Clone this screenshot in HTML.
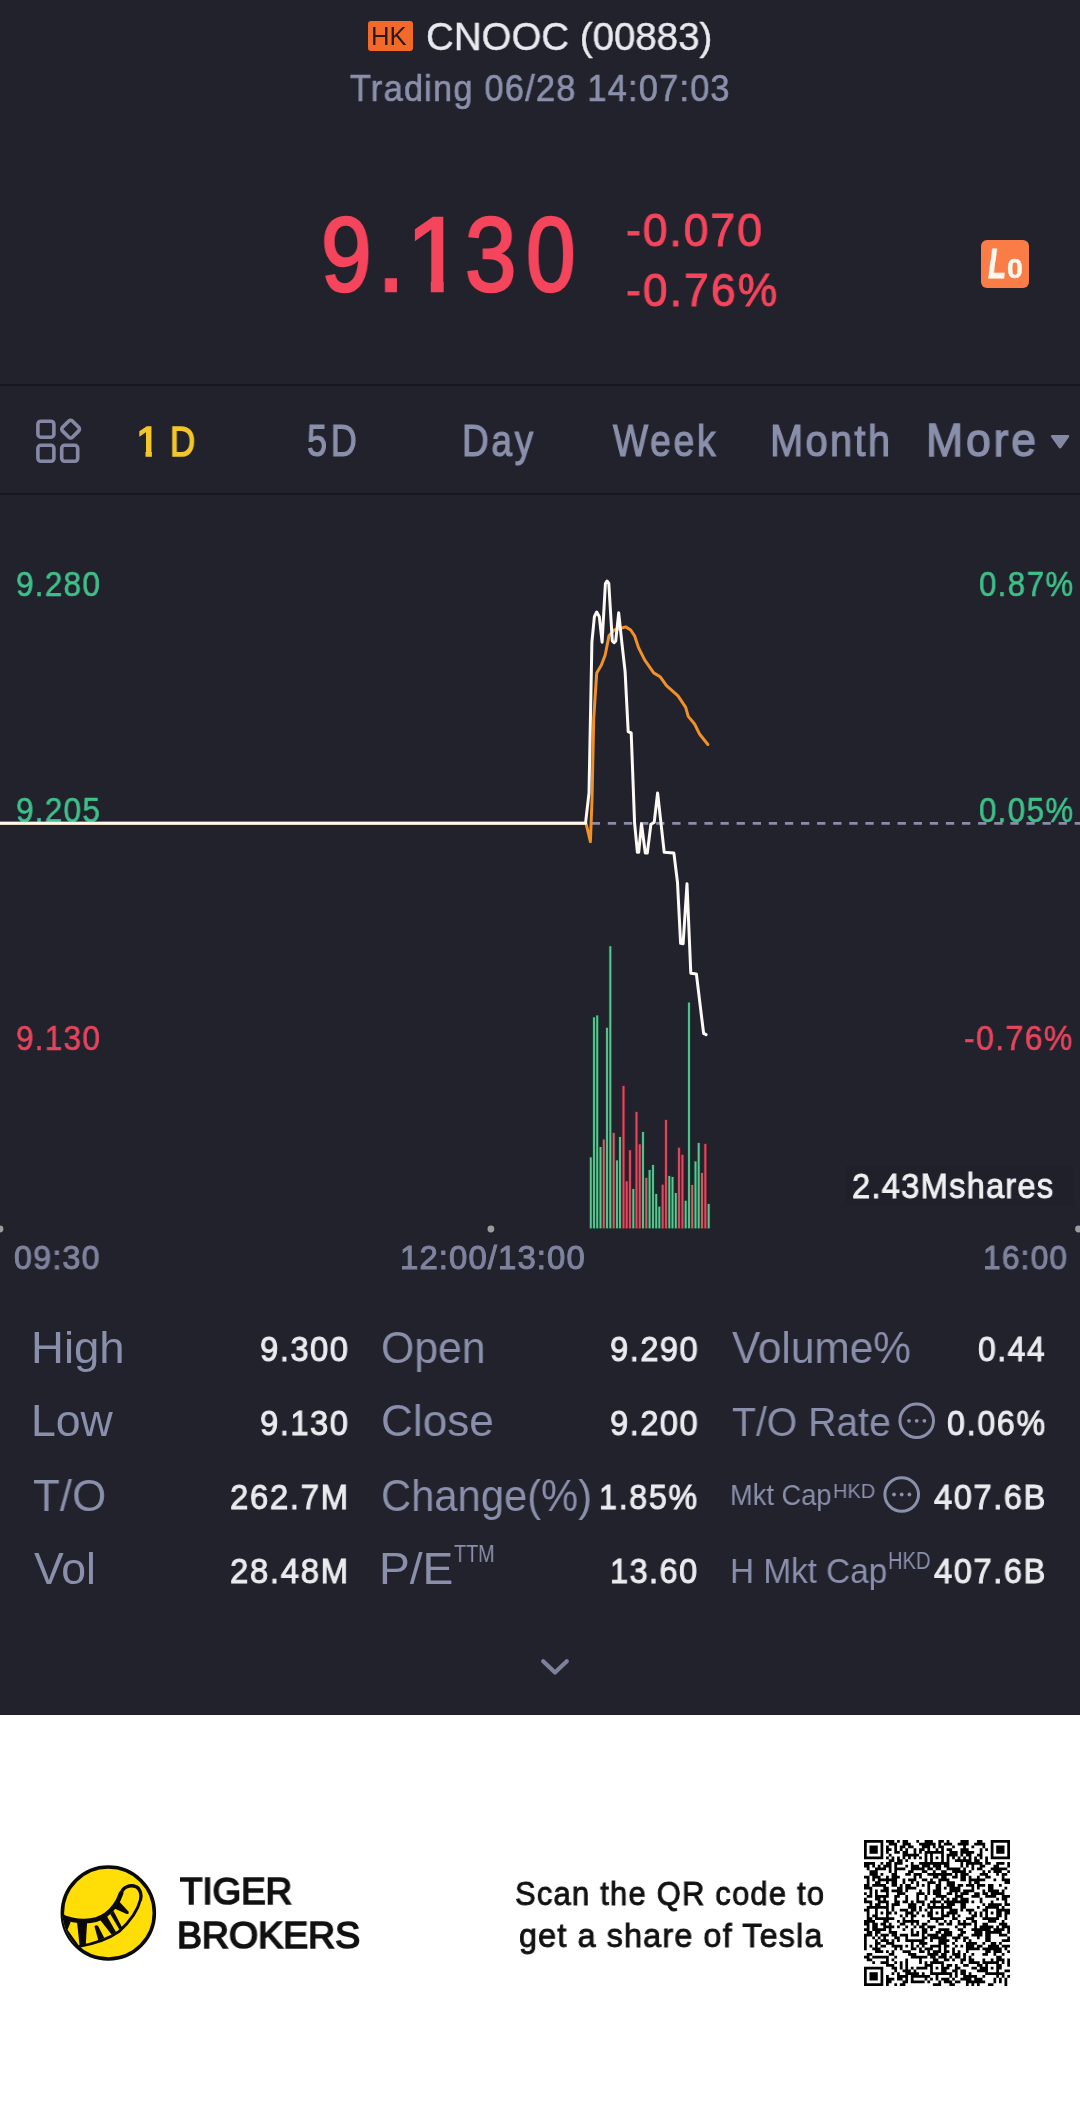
<!DOCTYPE html>
<html lang="en">
<head>
<meta charset="utf-8">
<title>CNOOC (00883)</title>
<style>
html,body{margin:0;padding:0;font-family:"Liberation Sans",sans-serif;}
body{width:1080px;height:2112px;position:relative;overflow:hidden;background:#ffffff;font-family:"Liberation Sans",sans-serif;}
#dark{position:absolute;left:0;top:0;width:1080px;height:1715px;background:#21222c;}
.t{will-change:transform;position:absolute;white-space:nowrap;transform-origin:0 0;display:block;}
.abs{position:absolute;}
.sep{position:absolute;left:0;width:1080px;height:2px;background:#17181f;}
svg{position:absolute;left:0;top:0;overflow:visible;}
</style>
</head>
<body>
<div id="dark"></div>

<!-- header badge -->
<div class="abs" style="left:368px;top:21px;width:45px;height:30px;border-radius:3px;background:#f26a2a;"></div>

<!-- Lo badge -->
<div class="abs" style="left:981px;top:240px;width:48px;height:48px;border-radius:6px;background:#fa7d48;"></div>

<!-- separators -->
<div class="sep" style="top:384px;"></div>
<div class="sep" style="top:493px;"></div>

<!-- volume tooltip background -->
<div class="abs" style="left:845px;top:1166px;width:228px;height:40px;background:#1f2029;"></div>

<span class="t" style="left:371.45px;top:23.84px;font-size:25.0px;line-height:25.0px;color:#2b1a12;transform:scaleX(1.0256);">HK</span>
<span class="t" style="left:426.06px;top:16.91px;font-size:39.68px;line-height:39.68px;color:#e9e9ee;transform:scaleX(0.9690);-webkit-text-stroke:0.4px #e9e9ee;">CNOOC (00883)</span>
<span class="t" style="left:350.35px;top:71.24px;font-size:36.63px;line-height:36.63px;color:#8b90ac;transform:scaleX(0.9354);letter-spacing:1.35px;-webkit-text-stroke:0.7px #8b90ac;">Trading 06/28 14:07:03</span>
<span class="t" style="left:320.86px;top:202.32px;font-size:105.89px;line-height:105.89px;color:#f5455c;transform:scaleX(0.8600);-webkit-text-stroke:2.6px #f5455c;">9</span>
<span class="t" style="left:376.79px;top:202.32px;font-size:105.89px;line-height:105.89px;color:#f5455c;transform:scaleX(0.9455);-webkit-text-stroke:2.6px #f5455c;">.</span>
<span class="t" style="left:406.30px;top:202.32px;font-size:105.89px;line-height:105.89px;color:#f5455c;transform:scaleX(1.0000);-webkit-text-stroke:2.6px #f5455c;clip-path:polygon(-9px -9px,106px -9px,106px 77.3px,37.7px 77.3px,37.7px 126px,24.8px 126px,24.8px 77.3px,-9px 77.3px);">1</span>
<span class="t" style="left:465.40px;top:202.32px;font-size:105.89px;line-height:105.89px;color:#f5455c;transform:scaleX(0.8745);-webkit-text-stroke:2.6px #f5455c;">3</span>
<span class="t" style="left:525.73px;top:202.32px;font-size:105.89px;line-height:105.89px;color:#f5455c;transform:scaleX(0.8431);-webkit-text-stroke:2.6px #f5455c;">0</span>
<span class="t" style="left:625.81px;top:206.71px;font-size:46.14px;line-height:46.14px;color:#f5455c;transform:scaleX(0.9685);letter-spacing:1.91px;-webkit-text-stroke:0.9px #f5455c;">-0.070</span>
<span class="t" style="left:625.80px;top:267.99px;font-size:45.58px;line-height:45.58px;color:#f5455c;transform:scaleX(0.9756);letter-spacing:2.12px;-webkit-text-stroke:0.9px #f5455c;">-0.76%</span>
<span class="t" style="left:988.00px;top:243.37px;font-size:41.86px;line-height:41.86px;color:#fff8f0;transform:scaleX(0.7125);font-weight:700;-webkit-text-stroke:0.8px #fff8f0;font-style:italic;">L</span>
<span class="t" style="left:1006.54px;top:254.29px;font-size:28.47px;line-height:28.47px;color:#fff8f0;transform:scaleX(1.0071);font-weight:700;-webkit-text-stroke:0.5px #fff8f0;">0</span>
<span class="t" style="left:136.22px;top:419.98px;font-size:43.02px;line-height:43.02px;color:#f3c62b;transform:scaleX(1.0000);-webkit-text-stroke:1.6px #f3c62b;clip-path:polygon(-9px -9px,43px -9px,43px 30.7px,15.9px 30.7px,15.9px 63px,9.5px 63px,9.5px 30.7px,-9px 30.7px);">1</span>
<span class="t" style="left:170.27px;top:419.98px;font-size:43.02px;line-height:43.02px;color:#f3c62b;transform:scaleX(0.8115);-webkit-text-stroke:1.6px #f3c62b;">D</span>
<span class="t" style="left:306.77px;top:419.69px;font-size:43.6px;line-height:43.6px;color:#8a8fab;transform:scaleX(0.8259);letter-spacing:4.63px;-webkit-text-stroke:1.2px #8a8fab;">5D</span>
<span class="t" style="left:462.06px;top:419.69px;font-size:43.6px;line-height:43.6px;color:#8a8fab;transform:scaleX(0.8470);letter-spacing:3.25px;-webkit-text-stroke:1.2px #8a8fab;">Day</span>
<span class="t" style="left:613.10px;top:419.69px;font-size:43.6px;line-height:43.6px;color:#8a8fab;transform:scaleX(0.8532);letter-spacing:3.21px;-webkit-text-stroke:1.2px #8a8fab;">Week</span>
<span class="t" style="left:770.35px;top:419.69px;font-size:43.6px;line-height:43.6px;color:#8a8fab;transform:scaleX(0.9151);letter-spacing:2.52px;-webkit-text-stroke:1.2px #8a8fab;">Month</span>
<span class="t" style="left:926.34px;top:417.28px;font-size:46.8px;line-height:46.8px;color:#8a8fab;transform:scaleX(0.9518);letter-spacing:2.94px;-webkit-text-stroke:1.4px #8a8fab;">More</span>
<span class="t" style="left:16.08px;top:567.30px;font-size:34.22px;line-height:34.22px;color:#3fc08a;transform:scaleX(0.9220);letter-spacing:1.33px;-webkit-text-stroke:0.6px #3fc08a;">9.280</span>
<span class="t" style="left:16.08px;top:793.30px;font-size:34.22px;line-height:34.22px;color:#3fc08a;transform:scaleX(0.9220);letter-spacing:1.33px;-webkit-text-stroke:0.6px #3fc08a;">9.205</span>
<span class="t" style="left:16.08px;top:1020.80px;font-size:34.22px;line-height:34.22px;color:#e6455d;transform:scaleX(0.9220);letter-spacing:1.33px;-webkit-text-stroke:0.6px #e6455d;">9.130</span>
<span class="t" style="left:978.69px;top:567.30px;font-size:34.22px;line-height:34.22px;color:#3fc08a;transform:scaleX(0.9125);letter-spacing:1.53px;-webkit-text-stroke:0.6px #3fc08a;">0.87%</span>
<span class="t" style="left:978.69px;top:793.30px;font-size:34.22px;line-height:34.22px;color:#3fc08a;transform:scaleX(0.9125);letter-spacing:1.53px;-webkit-text-stroke:0.6px #3fc08a;">0.05%</span>
<span class="t" style="left:964.36px;top:1020.80px;font-size:34.22px;line-height:34.22px;color:#e6455d;transform:scaleX(0.9409);letter-spacing:1.37px;-webkit-text-stroke:0.6px #e6455d;">-0.76%</span>
<span class="t" style="left:851.50px;top:1168.91px;font-size:34.5px;line-height:34.5px;color:#f0f0f3;transform:scaleX(0.9491);letter-spacing:1.26px;-webkit-text-stroke:0.9px #f0f0f3;">2.43Mshares</span>
<span class="t" style="left:13.92px;top:1242.22px;font-size:32.68px;line-height:32.68px;color:#7f839d;transform:scaleX(0.9838);letter-spacing:1.27px;-webkit-text-stroke:1.0px #7f839d;">09:30</span>
<span class="t" style="left:400.28px;top:1242.22px;font-size:32.68px;line-height:32.68px;color:#7f839d;transform:scaleX(1.0075);letter-spacing:1.08px;-webkit-text-stroke:1.0px #7f839d;">12:00/13:00</span>
<span class="t" style="left:982.56px;top:1242.22px;font-size:32.68px;line-height:32.68px;color:#7f839d;transform:scaleX(0.9688);letter-spacing:1.25px;-webkit-text-stroke:1.0px #7f839d;">16:00</span>
<span class="t" style="left:30.94px;top:1325.63px;font-size:44.62px;line-height:44.62px;color:#8a8fab;transform:scaleX(1.0205);">High</span>
<span class="t" style="left:31.01px;top:1399.23px;font-size:44.62px;line-height:44.62px;color:#8a8fab;transform:scaleX(0.9960);">Low</span>
<span class="t" style="left:33.02px;top:1473.63px;font-size:44.62px;line-height:44.62px;color:#8a8fab;transform:scaleX(0.9840);">T/O</span>
<span class="t" style="left:34.00px;top:1547.23px;font-size:44.62px;line-height:44.62px;color:#8a8fab;transform:scaleX(0.9983);">Vol</span>
<span class="t" style="left:380.58px;top:1325.63px;font-size:44.62px;line-height:44.62px;color:#8a8fab;transform:scaleX(0.9586);">Open</span>
<span class="t" style="left:380.52px;top:1399.23px;font-size:44.62px;line-height:44.62px;color:#8a8fab;transform:scaleX(0.9887);">Close</span>
<span class="t" style="left:380.63px;top:1473.63px;font-size:44.62px;line-height:44.62px;color:#8a8fab;transform:scaleX(0.9356);">Change(%)</span>
<span class="t" style="left:379.39px;top:1547.23px;font-size:44.62px;line-height:44.62px;color:#8a8fab;transform:scaleX(1.0350);">P/E</span>
<span class="t" style="left:453.50px;top:1542.20px;font-size:23.98px;line-height:23.98px;color:#8a8fab;transform:scaleX(0.8248);">TTM</span>
<span class="t" style="left:731.70px;top:1325.63px;font-size:44.62px;line-height:44.62px;color:#8a8fab;transform:scaleX(0.9495);">Volume%</span>
<span class="t" style="left:731.70px;top:1402.97px;font-size:39.97px;line-height:39.97px;color:#8a8fab;transform:scaleX(0.9794);">T/O Rate</span>
<span class="t" style="left:729.84px;top:1480.35px;font-size:29.36px;line-height:29.36px;color:#8a8fab;transform:scaleX(0.9282);">Mkt Cap</span>
<span class="t" style="left:833.03px;top:1481.03px;font-size:20.64px;line-height:20.64px;color:#8a8fab;transform:scaleX(0.9676);">HKD</span>
<span class="t" style="left:729.81px;top:1552.93px;font-size:35.17px;line-height:35.17px;color:#8a8fab;transform:scaleX(0.9468);">H Mkt Cap</span>
<span class="t" style="left:888.13px;top:1550.31px;font-size:23.26px;line-height:23.26px;color:#8a8fab;transform:scaleX(0.8668);">HKD</span>
<span class="t" style="left:260.26px;top:1332.12px;font-size:34.78px;line-height:34.78px;color:#ebebef;transform:scaleX(0.9425);letter-spacing:1.59px;-webkit-text-stroke:1.0px #ebebef;">9.300</span>
<span class="t" style="left:260.26px;top:1405.82px;font-size:34.78px;line-height:34.78px;color:#ebebef;transform:scaleX(0.9425);letter-spacing:1.59px;-webkit-text-stroke:1.0px #ebebef;">9.130</span>
<span class="t" style="left:230.25px;top:1479.82px;font-size:34.78px;line-height:34.78px;color:#ebebef;transform:scaleX(0.9489);letter-spacing:1.70px;-webkit-text-stroke:1.0px #ebebef;">262.7M</span>
<span class="t" style="left:230.25px;top:1553.82px;font-size:34.78px;line-height:34.78px;color:#ebebef;transform:scaleX(0.9489);letter-spacing:1.70px;-webkit-text-stroke:1.0px #ebebef;">28.48M</span>
<span class="t" style="left:609.56px;top:1332.12px;font-size:34.78px;line-height:34.78px;color:#ebebef;transform:scaleX(0.9392);letter-spacing:1.59px;-webkit-text-stroke:1.0px #ebebef;">9.290</span>
<span class="t" style="left:609.56px;top:1405.82px;font-size:34.78px;line-height:34.78px;color:#ebebef;transform:scaleX(0.9392);letter-spacing:1.59px;-webkit-text-stroke:1.0px #ebebef;">9.200</span>
<span class="t" style="left:598.64px;top:1479.82px;font-size:34.78px;line-height:34.78px;color:#ebebef;transform:scaleX(0.9284);letter-spacing:1.80px;-webkit-text-stroke:1.0px #ebebef;">1.85%</span>
<span class="t" style="left:610.13px;top:1553.82px;font-size:34.78px;line-height:34.78px;color:#ebebef;transform:scaleX(0.9337);letter-spacing:1.57px;-webkit-text-stroke:1.0px #ebebef;">13.60</span>
<span class="t" style="left:978.08px;top:1332.12px;font-size:34.78px;line-height:34.78px;color:#ebebef;transform:scaleX(0.9184);letter-spacing:1.66px;-webkit-text-stroke:1.0px #ebebef;">0.44</span>
<span class="t" style="left:947.27px;top:1405.82px;font-size:34.78px;line-height:34.78px;color:#ebebef;transform:scaleX(0.9265);letter-spacing:1.82px;-webkit-text-stroke:1.0px #ebebef;">0.06%</span>
<span class="t" style="left:933.80px;top:1479.82px;font-size:34.78px;line-height:34.78px;color:#ebebef;transform:scaleX(0.9402);letter-spacing:1.64px;-webkit-text-stroke:1.0px #ebebef;">407.6B</span>
<span class="t" style="left:933.80px;top:1553.82px;font-size:34.78px;line-height:34.78px;color:#ebebef;transform:scaleX(0.9402);letter-spacing:1.64px;-webkit-text-stroke:1.0px #ebebef;">407.6B</span>
<span class="t" style="left:180.15px;top:1872.65px;font-size:37.21px;line-height:37.21px;color:#111;transform:scaleX(0.9866);-webkit-text-stroke:1.7px #111;">TIGER</span>
<span class="t" style="left:177.17px;top:1916.58px;font-size:37.65px;line-height:37.65px;color:#111;transform:scaleX(0.9947);-webkit-text-stroke:1.7px #111;">BROKERS</span>
<span class="t" style="left:514.54px;top:1875.76px;font-size:34.01px;line-height:34.01px;color:#111;transform:scaleX(0.9113);letter-spacing:1.31px;-webkit-text-stroke:0.9px #111;">Scan the QR code to</span>
<span class="t" style="left:518.80px;top:1918.06px;font-size:34.01px;line-height:34.01px;color:#111;transform:scaleX(0.9529);letter-spacing:1.17px;-webkit-text-stroke:0.9px #111;">get a share of Tesla</span>

<svg width="1080" height="2112" viewBox="0 0 1080 2112">
<line x1="591.7" y1="823.4" x2="1080" y2="823.4" stroke="#8a8da6" stroke-width="2.8" stroke-dasharray="8.3 7.8"/>
<rect x="589.1" y="1156.9" width="3.4" height="71.9" fill="#0b4a30"/>
<rect x="592.3" y="1016.9" width="3.4" height="211.9" fill="#0b4a30"/>
<rect x="595.5" y="1015.0" width="3.4" height="213.8" fill="#0b4a30"/>
<rect x="598.8" y="1146.5" width="3.4" height="82.3" fill="#0b4a30"/>
<rect x="602.1" y="1139.1" width="3.4" height="89.7" fill="#4b2a26"/>
<rect x="605.3" y="1027.3" width="3.4" height="201.5" fill="#0b4a30"/>
<rect x="608.6" y="945.8" width="3.4" height="283.0" fill="#0b4a30"/>
<rect x="612.0" y="1132.5" width="3.4" height="96.3" fill="#4b2a26"/>
<rect x="615.3" y="1159.9" width="3.4" height="68.9" fill="#0b4a30"/>
<rect x="618.3" y="1136.5" width="3.4" height="92.3" fill="#0b4a30"/>
<rect x="621.8" y="1085.5" width="3.4" height="143.3" fill="#6a1c28"/>
<rect x="625.0" y="1180.9" width="3.4" height="47.9" fill="#6a1c28"/>
<rect x="628.3" y="1149.8" width="3.4" height="79.0" fill="#6a1c28"/>
<rect x="631.6" y="1188.5" width="3.4" height="40.3" fill="#0b4a30"/>
<rect x="634.8" y="1111.5" width="3.4" height="117.3" fill="#6a1c28"/>
<rect x="638.1" y="1143.9" width="3.4" height="84.9" fill="#6a1c28"/>
<rect x="641.3" y="1131.5" width="3.4" height="97.3" fill="#0b4a30"/>
<rect x="644.6" y="1177.4" width="3.4" height="51.4" fill="#4b2a26"/>
<rect x="647.9" y="1169.5" width="3.4" height="59.3" fill="#0b4a30"/>
<rect x="651.3" y="1164.5" width="3.4" height="64.3" fill="#0b4a30"/>
<rect x="654.5" y="1193.5" width="3.4" height="35.3" fill="#0b4a30"/>
<rect x="657.6" y="1206.2" width="3.4" height="22.6" fill="#0b4a30"/>
<rect x="661.0" y="1184.3" width="3.4" height="44.5" fill="#6a1c28"/>
<rect x="664.3" y="1119.5" width="3.4" height="109.3" fill="#6a1c28"/>
<rect x="667.6" y="1175.5" width="3.4" height="53.3" fill="#0b4a30"/>
<rect x="670.8" y="1176.5" width="3.4" height="52.3" fill="#0b4a30"/>
<rect x="674.1" y="1192.5" width="3.4" height="36.3" fill="#0b4a30"/>
<rect x="677.3" y="1147.3" width="3.4" height="81.5" fill="#6a1c28"/>
<rect x="680.7" y="1154.4" width="3.4" height="74.4" fill="#6a1c28"/>
<rect x="684.0" y="1200.3" width="3.4" height="28.5" fill="#0b4a30"/>
<rect x="687.3" y="1002.1" width="3.4" height="226.7" fill="#0b4a30"/>
<rect x="690.5" y="1184.5" width="3.4" height="44.3" fill="#4b2a26"/>
<rect x="693.8" y="1160.9" width="3.4" height="67.9" fill="#0b4a30"/>
<rect x="697.0" y="1142.5" width="3.4" height="86.3" fill="#0b4a30"/>
<rect x="700.3" y="1172.5" width="3.4" height="56.3" fill="#4b2a26"/>
<rect x="703.6" y="1143.5" width="3.4" height="85.3" fill="#6a1c28"/>
<rect x="707.0" y="1203.5" width="3.4" height="25.3" fill="#0b4a30"/>
<rect x="589.85" y="1157.4" width="1.9" height="70.9" fill="#62c394"/>
<rect x="593.05" y="1017.4" width="1.9" height="210.9" fill="#62c394"/>
<rect x="596.25" y="1015.5" width="1.9" height="212.8" fill="#62c394"/>
<rect x="599.55" y="1147.0" width="1.9" height="81.3" fill="#62c394"/>
<rect x="602.85" y="1139.6" width="1.9" height="88.7" fill="#c0666c"/>
<rect x="606.05" y="1027.8" width="1.9" height="200.5" fill="#62c394"/>
<rect x="609.35" y="946.3" width="1.9" height="282.0" fill="#62c394"/>
<rect x="612.75" y="1133.0" width="1.9" height="95.3" fill="#c0666c"/>
<rect x="616.05" y="1160.4" width="1.9" height="67.9" fill="#62c394"/>
<rect x="619.05" y="1137.0" width="1.9" height="91.3" fill="#62c394"/>
<rect x="622.55" y="1086.0" width="1.9" height="142.3" fill="#dc4a63"/>
<rect x="625.75" y="1181.4" width="1.9" height="46.9" fill="#dc4a63"/>
<rect x="629.05" y="1150.3" width="1.9" height="78.0" fill="#dc4a63"/>
<rect x="632.35" y="1189.0" width="1.9" height="39.3" fill="#62c394"/>
<rect x="635.55" y="1112.0" width="1.9" height="116.3" fill="#dc4a63"/>
<rect x="638.85" y="1144.4" width="1.9" height="83.9" fill="#dc4a63"/>
<rect x="642.05" y="1132.0" width="1.9" height="96.3" fill="#62c394"/>
<rect x="645.35" y="1177.9" width="1.9" height="50.4" fill="#c0666c"/>
<rect x="648.65" y="1170.0" width="1.9" height="58.3" fill="#62c394"/>
<rect x="652.05" y="1165.0" width="1.9" height="63.3" fill="#62c394"/>
<rect x="655.25" y="1194.0" width="1.9" height="34.3" fill="#62c394"/>
<rect x="658.35" y="1206.7" width="1.9" height="21.6" fill="#62c394"/>
<rect x="661.75" y="1184.8" width="1.9" height="43.5" fill="#dc4a63"/>
<rect x="665.05" y="1120.0" width="1.9" height="108.3" fill="#dc4a63"/>
<rect x="668.35" y="1176.0" width="1.9" height="52.3" fill="#62c394"/>
<rect x="671.55" y="1177.0" width="1.9" height="51.3" fill="#62c394"/>
<rect x="674.85" y="1193.0" width="1.9" height="35.3" fill="#62c394"/>
<rect x="678.05" y="1147.8" width="1.9" height="80.5" fill="#dc4a63"/>
<rect x="681.45" y="1154.9" width="1.9" height="73.4" fill="#dc4a63"/>
<rect x="684.75" y="1200.8" width="1.9" height="27.5" fill="#62c394"/>
<rect x="688.05" y="1002.6" width="1.9" height="225.7" fill="#62c394"/>
<rect x="691.25" y="1185.0" width="1.9" height="43.3" fill="#c0666c"/>
<rect x="694.55" y="1161.4" width="1.9" height="66.9" fill="#62c394"/>
<rect x="697.75" y="1143.0" width="1.9" height="85.3" fill="#62c394"/>
<rect x="701.05" y="1173.0" width="1.9" height="55.3" fill="#c0666c"/>
<rect x="704.35" y="1144.0" width="1.9" height="84.3" fill="#dc4a63"/>
<rect x="707.75" y="1204.0" width="1.9" height="24.3" fill="#62c394"/>
<polyline points="0.0,823.3 586.0,823.3 590.4,841.6 592.0,800.0 593.7,718.9 596.7,672.9 601.3,665.2 605.2,655.0 609.0,635.8 614.1,630.0 619.2,628.7 625.6,626.9 630.7,630.0 634.6,635.8 638.4,647.3 644.8,660.1 653.7,672.9 660.1,676.7 666.5,685.7 678.0,695.9 685.7,707.4 688.2,716.4 694.6,724.0 699.7,734.3 707.9,744.5" fill="none" stroke="#f0912a" stroke-width="3.0" stroke-linejoin="round" stroke-linecap="round"/>
<polyline points="0.0,823.3 585.5,823.3 589.0,793.0 591.9,642.2 594.4,616.7 596.7,612.0 599.3,616.7 602.1,642.2 605.4,583.5 607.0,581.0 608.8,583.5 612.3,641.0 614.1,642.7 615.7,641.0 618.7,612.8 621.8,642.2 625.1,671.6 628.2,731.7 631.2,733.0 634.6,823.2 637.4,852.3 638.7,852.3 641.5,823.7 645.3,853.1 647.3,853.1 650.9,824.2 654.2,822.4 657.6,793.0 660.9,822.4 664.2,852.3 673.9,853.1 677.5,882.5 680.6,943.3 683.1,943.8 687.0,883.8 690.8,973.2 696.4,974.0 700.0,1003.9 703.6,1033.3 706.1,1034.6" fill="none" stroke="#fdfaf5" stroke-width="3.0" stroke-linejoin="round" stroke-linecap="round"/>
<circle cx="0" cy="1229" r="3.4" fill="#9b9b9b"/>
<circle cx="490.9" cy="1229" r="3.4" fill="#9b9b9b"/>
<circle cx="1078.5" cy="1229" r="3.4" fill="#9b9b9b"/>
<rect x="37.9" y="421.2" width="16" height="16" rx="3" fill="none" stroke="#8588a2" stroke-width="3.6"/>
<rect x="37.9" y="445.3" width="16" height="16" rx="3" fill="none" stroke="#8588a2" stroke-width="3.6"/>
<rect x="61.7" y="445.3" width="16" height="16" rx="3" fill="none" stroke="#8588a2" stroke-width="3.6"/>
<rect x="63.6" y="422.1" width="14" height="14" rx="2.5" fill="none" stroke="#8588a2" stroke-width="3.6" transform="rotate(45 70.6 429.1)"/>
<path d="M1052.6 434.9 L1067.6 434.9 Q1070.4 434.9 1068.8 437.2 L1061.6 447.6 Q1060.1 449.5 1058.6 447.6 L1051.4 437.2 Q1049.8 434.9 1052.6 434.9 Z" fill="#8588a2"/>
<circle cx="916.7" cy="1420.8" r="16.8" fill="none" stroke="#8a8fab" stroke-width="3"/>
<circle cx="909.0" cy="1420.8" r="1.9" fill="#8a8fab"/>
<circle cx="916.7" cy="1420.8" r="1.9" fill="#8a8fab"/>
<circle cx="924.4" cy="1420.8" r="1.9" fill="#8a8fab"/>
<circle cx="901.7" cy="1494.5" r="16.8" fill="none" stroke="#8a8fab" stroke-width="3"/>
<circle cx="894.0" cy="1494.5" r="1.9" fill="#8a8fab"/>
<circle cx="901.7" cy="1494.5" r="1.9" fill="#8a8fab"/>
<circle cx="909.4" cy="1494.5" r="1.9" fill="#8a8fab"/>
<polyline points="543.2,1661.3 555,1672.6 566.8,1661.3" fill="none" stroke="#7d819b" stroke-width="4.2" stroke-linecap="round" stroke-linejoin="round"/>
</svg>

<svg style="left:50px;top:1855px" width="120" height="120" viewBox="0 0 1080 1080">
<defs><clipPath id="lc"><circle cx="525" cy="522" r="412"/></clipPath></defs>
<circle cx="525" cy="522" r="414" fill="#ffde07" stroke="#0a0a0a" stroke-width="32"/>
<g clip-path="url(#lc)" stroke-linecap="round" stroke-linejoin="round">
<path d="M95 545 C230 612 400 612 500 540 C570 490 615 420 640 345 C655 290 720 262 775 285 C815 305 825 360 815 400 C790 500 720 600 620 690 C520 760 400 800 262 822 L60 700 Z" fill="#ffde07"/>
<path d="M60 500 L186 604 L158 672 L256 810 L237 880 L20 760 Z" fill="#0a0a0a"/>
<path d="M243 600 L334 606 L322 806 L266 812 Z" fill="#0a0a0a"/>
<path d="M400 642 Q412 626 432 636 L489 748 L435 770 Z" fill="#0a0a0a"/>
<path d="M448 580 L510 546 L594 694 L554 716 Z" fill="#0a0a0a"/>
<path d="M542 530 L572 504 L648 650 L624 670 Z" fill="#0a0a0a"/>
<path d="M625 420 L706 508 Q716 532 690 532 L570 476 Z" fill="#0a0a0a"/>
<path d="M815 400 C790 500 720 600 620 690 C520 760 400 800 262 822" fill="none" stroke="#0a0a0a" stroke-width="26"/>
<path d="M95 548 C230 612 400 612 500 540 C570 490 615 420 640 345" fill="none" stroke="#0a0a0a" stroke-width="42"/>
<path d="M640 345 C655 290 720 262 775 285 C815 305 825 360 815 400" fill="none" stroke="#0a0a0a" stroke-width="30"/>
</g>
</svg>
<svg style="left:864.0px;top:1840.0px" width="146.0" height="146.0" viewBox="0 0 53 53"><rect width="53" height="53" fill="#fff"/><path d="M0 0h7v1h-7zM8 0h3v1h-3zM12 0h1v1h-1zM14 0h2v1h-2zM19 0h1v1h-1zM22 0h3v1h-3zM27 0h2v1h-2zM30 0h1v1h-1zM35 0h3v1h-3zM41 0h2v1h-2zM46 0h7v1h-7zM0 1h1v1h-1zM6 1h1v1h-1zM9 1h3v1h-3zM14 1h3v1h-3zM20 1h6v1h-6zM27 1h1v1h-1zM29 1h3v1h-3zM34 1h4v1h-4zM40 1h4v1h-4zM46 1h1v1h-1zM52 1h1v1h-1zM0 2h1v1h-1zM2 2h3v1h-3zM6 2h1v1h-1zM8 2h1v1h-1zM11 2h1v1h-1zM13 2h2v1h-2zM16 2h2v1h-2zM21 2h3v1h-3zM25 2h1v1h-1zM27 2h2v1h-2zM32 2h1v1h-1zM36 2h1v1h-1zM39 2h1v1h-1zM43 2h1v1h-1zM46 2h1v1h-1zM48 2h3v1h-3zM52 2h1v1h-1zM0 3h1v1h-1zM2 3h3v1h-3zM6 3h1v1h-1zM8 3h2v1h-2zM11 3h1v1h-1zM13 3h1v1h-1zM15 3h1v1h-1zM18 3h1v1h-1zM20 3h2v1h-2zM23 3h1v1h-1zM26 3h1v1h-1zM28 3h1v1h-1zM30 3h2v1h-2zM35 3h3v1h-3zM42 3h1v1h-1zM44 3h1v1h-1zM46 3h1v1h-1zM48 3h3v1h-3zM52 3h1v1h-1zM0 4h1v1h-1zM2 4h3v1h-3zM6 4h1v1h-1zM8 4h1v1h-1zM11 4h2v1h-2zM14 4h2v1h-2zM18 4h1v1h-1zM20 4h1v1h-1zM22 4h7v1h-7zM31 4h3v1h-3zM35 4h5v1h-5zM42 4h1v1h-1zM46 4h1v1h-1zM48 4h3v1h-3zM52 4h1v1h-1zM0 5h1v1h-1zM6 5h1v1h-1zM9 5h1v1h-1zM14 5h6v1h-6zM22 5h1v1h-1zM24 5h1v1h-1zM28 5h1v1h-1zM30 5h4v1h-4zM35 5h1v1h-1zM37 5h2v1h-2zM41 5h2v1h-2zM46 5h1v1h-1zM52 5h1v1h-1zM0 6h7v1h-7zM8 6h1v1h-1zM10 6h1v1h-1zM12 6h1v1h-1zM14 6h1v1h-1zM16 6h1v1h-1zM18 6h1v1h-1zM20 6h1v1h-1zM22 6h1v1h-1zM24 6h1v1h-1zM26 6h1v1h-1zM28 6h1v1h-1zM30 6h1v1h-1zM32 6h1v1h-1zM34 6h1v1h-1zM36 6h1v1h-1zM38 6h1v1h-1zM40 6h1v1h-1zM42 6h1v1h-1zM44 6h1v1h-1zM46 6h7v1h-7zM9 7h2v1h-2zM12 7h2v1h-2zM15 7h1v1h-1zM22 7h1v1h-1zM24 7h1v1h-1zM28 7h1v1h-1zM30 7h1v1h-1zM33 7h6v1h-6zM40 7h2v1h-2zM44 7h1v1h-1zM0 8h4v1h-4zM6 8h1v1h-1zM8 8h2v1h-2zM11 8h3v1h-3zM17 8h1v1h-1zM20 8h11v1h-11zM35 8h1v1h-1zM37 8h6v1h-6zM44 8h2v1h-2zM48 8h3v1h-3zM52 8h1v1h-1zM0 9h2v1h-2zM3 9h1v1h-1zM5 9h1v1h-1zM7 9h3v1h-3zM11 9h1v1h-1zM15 9h1v1h-1zM17 9h3v1h-3zM21 9h3v1h-3zM25 9h3v1h-3zM29 9h2v1h-2zM35 9h1v1h-1zM37 9h1v1h-1zM39 9h1v1h-1zM42 9h2v1h-2zM47 9h2v1h-2zM52 9h1v1h-1zM1 10h1v1h-1zM4 10h4v1h-4zM9 10h1v1h-1zM11 10h4v1h-4zM17 10h5v1h-5zM23 10h2v1h-2zM26 10h2v1h-2zM30 10h5v1h-5zM36 10h1v1h-1zM39 10h1v1h-1zM41 10h2v1h-2zM46 10h6v1h-6zM2 11h3v1h-3zM9 11h1v1h-1zM11 11h1v1h-1zM16 11h2v1h-2zM21 11h2v1h-2zM25 11h1v1h-1zM28 11h2v1h-2zM32 11h5v1h-5zM38 11h1v1h-1zM43 11h1v1h-1zM45 11h1v1h-1zM47 11h3v1h-3zM52 11h1v1h-1zM2 12h3v1h-3zM6 12h1v1h-1zM10 12h2v1h-2zM15 12h2v1h-2zM18 12h3v1h-3zM23 12h9v1h-9zM33 12h1v1h-1zM35 12h3v1h-3zM42 12h3v1h-3zM48 12h1v1h-1zM50 12h2v1h-2zM0 13h2v1h-2zM3 13h3v1h-3zM8 13h1v1h-1zM10 13h3v1h-3zM18 13h1v1h-1zM20 13h1v1h-1zM25 13h2v1h-2zM28 13h2v1h-2zM32 13h2v1h-2zM35 13h2v1h-2zM38 13h1v1h-1zM41 13h1v1h-1zM44 13h2v1h-2zM50 13h1v1h-1zM1 14h1v1h-1zM3 14h1v1h-1zM5 14h7v1h-7zM14 14h1v1h-1zM16 14h3v1h-3zM21 14h2v1h-2zM24 14h1v1h-1zM27 14h4v1h-4zM35 14h2v1h-2zM38 14h6v1h-6zM47 14h1v1h-1zM50 14h3v1h-3zM1 15h1v1h-1zM4 15h2v1h-2zM8 15h1v1h-1zM10 15h2v1h-2zM14 15h1v1h-1zM17 15h1v1h-1zM19 15h1v1h-1zM23 15h3v1h-3zM27 15h1v1h-1zM30 15h3v1h-3zM38 15h1v1h-1zM40 15h2v1h-2zM51 15h2v1h-2zM0 16h2v1h-2zM3 16h5v1h-5zM10 16h2v1h-2zM13 16h1v1h-1zM15 16h2v1h-2zM19 16h1v1h-1zM21 16h1v1h-1zM23 16h1v1h-1zM26 16h2v1h-2zM30 16h3v1h-3zM34 16h2v1h-2zM37 16h3v1h-3zM41 16h3v1h-3zM45 16h2v1h-2zM49 16h1v1h-1zM0 17h3v1h-3zM7 17h2v1h-2zM12 17h2v1h-2zM15 17h4v1h-4zM23 17h1v1h-1zM26 17h2v1h-2zM29 17h1v1h-1zM31 17h4v1h-4zM39 17h1v1h-1zM41 17h1v1h-1zM45 17h2v1h-2zM51 17h1v1h-1zM2 18h1v1h-1zM4 18h1v1h-1zM6 18h3v1h-3zM10 18h4v1h-4zM15 18h1v1h-1zM20 18h1v1h-1zM23 18h1v1h-1zM25 18h3v1h-3zM31 18h4v1h-4zM36 18h4v1h-4zM43 18h1v1h-1zM45 18h4v1h-4zM50 18h1v1h-1zM0 19h1v1h-1zM2 19h1v1h-1zM4 19h1v1h-1zM8 19h1v1h-1zM12 19h3v1h-3zM19 19h3v1h-3zM23 19h1v1h-1zM25 19h3v1h-3zM30 19h2v1h-2zM33 19h1v1h-1zM35 19h3v1h-3zM40 19h2v1h-2zM43 19h2v1h-2zM46 19h5v1h-5zM1 20h2v1h-2zM4 20h5v1h-5zM11 20h2v1h-2zM15 20h1v1h-1zM19 20h1v1h-1zM22 20h1v1h-1zM26 20h4v1h-4zM33 20h3v1h-3zM39 20h3v1h-3zM44 20h4v1h-4zM50 20h3v1h-3zM0 21h1v1h-1zM4 21h2v1h-2zM7 21h1v1h-1zM11 21h1v1h-1zM15 21h1v1h-1zM19 21h1v1h-1zM22 21h1v1h-1zM25 21h1v1h-1zM28 21h1v1h-1zM30 21h1v1h-1zM32 21h2v1h-2zM35 21h3v1h-3zM42 21h1v1h-1zM48 21h1v1h-1zM50 21h2v1h-2zM0 22h3v1h-3zM5 22h4v1h-4zM11 22h2v1h-2zM14 22h2v1h-2zM17 22h1v1h-1zM19 22h3v1h-3zM24 22h4v1h-4zM29 22h9v1h-9zM39 22h1v1h-1zM42 22h1v1h-1zM46 22h1v1h-1zM51 22h1v1h-1zM2 23h1v1h-1zM4 23h2v1h-2zM8 23h1v1h-1zM10 23h3v1h-3zM16 23h3v1h-3zM21 23h1v1h-1zM23 23h1v1h-1zM25 23h1v1h-1zM28 23h1v1h-1zM30 23h3v1h-3zM35 23h2v1h-2zM43 23h1v1h-1zM45 23h5v1h-5zM51 23h2v1h-2zM1 24h8v1h-8zM10 24h1v1h-1zM16 24h3v1h-3zM20 24h1v1h-1zM23 24h9v1h-9zM35 24h2v1h-2zM41 24h1v1h-1zM44 24h5v1h-5zM50 24h1v1h-1zM0 25h2v1h-2zM4 25h1v1h-1zM8 25h1v1h-1zM10 25h1v1h-1zM13 25h3v1h-3zM17 25h2v1h-2zM20 25h1v1h-1zM22 25h1v1h-1zM24 25h1v1h-1zM28 25h1v1h-1zM31 25h3v1h-3zM35 25h1v1h-1zM37 25h3v1h-3zM43 25h2v1h-2zM48 25h5v1h-5zM1 26h1v1h-1zM4 26h1v1h-1zM6 26h1v1h-1zM8 26h2v1h-2zM11 26h1v1h-1zM15 26h3v1h-3zM19 26h1v1h-1zM23 26h2v1h-2zM26 26h1v1h-1zM28 26h1v1h-1zM30 26h4v1h-4zM38 26h1v1h-1zM40 26h1v1h-1zM42 26h1v1h-1zM44 26h1v1h-1zM46 26h1v1h-1zM48 26h2v1h-2zM51 26h2v1h-2zM1 27h1v1h-1zM3 27h2v1h-2zM8 27h1v1h-1zM13 27h1v1h-1zM15 27h1v1h-1zM17 27h2v1h-2zM21 27h1v1h-1zM23 27h2v1h-2zM28 27h3v1h-3zM32 27h1v1h-1zM34 27h1v1h-1zM39 27h2v1h-2zM42 27h1v1h-1zM44 27h1v1h-1zM48 27h2v1h-2zM51 27h1v1h-1zM1 28h2v1h-2zM4 28h7v1h-7zM14 28h1v1h-1zM17 28h1v1h-1zM24 28h5v1h-5zM32 28h2v1h-2zM37 28h3v1h-3zM43 28h6v1h-6zM51 28h1v1h-1zM0 29h4v1h-4zM7 29h2v1h-2zM12 29h1v1h-1zM14 29h6v1h-6zM23 29h1v1h-1zM26 29h1v1h-1zM29 29h1v1h-1zM31 29h1v1h-1zM34 29h1v1h-1zM36 29h1v1h-1zM39 29h2v1h-2zM45 29h3v1h-3zM50 29h1v1h-1zM0 30h2v1h-2zM3 30h2v1h-2zM6 30h2v1h-2zM9 30h1v1h-1zM13 30h2v1h-2zM17 30h1v1h-1zM19 30h1v1h-1zM21 30h2v1h-2zM27 30h2v1h-2zM30 30h2v1h-2zM34 30h5v1h-5zM40 30h1v1h-1zM43 30h2v1h-2zM49 30h3v1h-3zM1 31h1v1h-1zM3 31h2v1h-2zM7 31h4v1h-4zM12 31h1v1h-1zM15 31h1v1h-1zM18 31h1v1h-1zM20 31h2v1h-2zM23 31h3v1h-3zM33 31h1v1h-1zM36 31h1v1h-1zM40 31h1v1h-1zM42 31h5v1h-5zM48 31h1v1h-1zM50 31h3v1h-3zM0 32h2v1h-2zM3 32h5v1h-5zM9 32h1v1h-1zM14 32h1v1h-1zM17 32h1v1h-1zM21 32h2v1h-2zM24 32h1v1h-1zM27 32h4v1h-4zM34 32h2v1h-2zM39 32h7v1h-7zM47 32h4v1h-4zM52 32h1v1h-1zM1 33h2v1h-2zM4 33h2v1h-2zM9 33h3v1h-3zM17 33h1v1h-1zM19 33h1v1h-1zM21 33h2v1h-2zM26 33h2v1h-2zM29 33h3v1h-3zM35 33h2v1h-2zM40 33h3v1h-3zM44 33h6v1h-6zM52 33h1v1h-1zM0 34h3v1h-3zM4 34h1v1h-1zM6 34h3v1h-3zM10 34h2v1h-2zM13 34h3v1h-3zM17 34h3v1h-3zM21 34h1v1h-1zM23 34h4v1h-4zM28 34h4v1h-4zM34 34h2v1h-2zM39 34h4v1h-4zM44 34h2v1h-2zM49 34h3v1h-3zM0 35h1v1h-1zM3 35h1v1h-1zM5 35h1v1h-1zM7 35h1v1h-1zM11 35h2v1h-2zM15 35h1v1h-1zM21 35h2v1h-2zM24 35h6v1h-6zM32 35h3v1h-3zM36 35h2v1h-2zM41 35h1v1h-1zM44 35h2v1h-2zM52 35h1v1h-1zM0 36h1v1h-1zM4 36h1v1h-1zM6 36h3v1h-3zM10 36h1v1h-1zM12 36h1v1h-1zM15 36h7v1h-7zM24 36h1v1h-1zM27 36h4v1h-4zM33 36h1v1h-1zM36 36h1v1h-1zM38 36h1v1h-1zM44 36h2v1h-2zM50 36h3v1h-3zM0 37h1v1h-1zM4 37h2v1h-2zM8 37h3v1h-3zM17 37h1v1h-1zM20 37h3v1h-3zM27 37h3v1h-3zM32 37h1v1h-1zM37 37h4v1h-4zM43 37h1v1h-1zM46 37h2v1h-2zM49 37h1v1h-1zM0 38h1v1h-1zM2 38h1v1h-1zM4 38h1v1h-1zM6 38h2v1h-2zM10 38h4v1h-4zM15 38h1v1h-1zM17 38h1v1h-1zM19 38h1v1h-1zM21 38h1v1h-1zM24 38h4v1h-4zM29 38h2v1h-2zM33 38h1v1h-1zM35 38h1v1h-1zM37 38h3v1h-3zM41 38h2v1h-2zM45 38h4v1h-4zM50 38h3v1h-3zM0 39h1v1h-1zM3 39h3v1h-3zM11 39h1v1h-1zM13 39h1v1h-1zM17 39h2v1h-2zM20 39h1v1h-1zM22 39h3v1h-3zM27 39h1v1h-1zM29 39h1v1h-1zM32 39h1v1h-1zM37 39h5v1h-5zM43 39h7v1h-7zM51 39h1v1h-1zM4 40h3v1h-3zM8 40h1v1h-1zM10 40h1v1h-1zM14 40h3v1h-3zM20 40h2v1h-2zM23 40h1v1h-1zM25 40h3v1h-3zM29 40h2v1h-2zM32 40h1v1h-1zM34 40h1v1h-1zM37 40h1v1h-1zM44 40h2v1h-2zM47 40h3v1h-3zM52 40h1v1h-1zM1 41h2v1h-2zM9 41h2v1h-2zM16 41h3v1h-3zM23 41h4v1h-4zM28 41h2v1h-2zM32 41h3v1h-3zM36 41h1v1h-1zM39 41h1v1h-1zM43 41h2v1h-2zM47 41h1v1h-1zM50 41h1v1h-1zM0 42h2v1h-2zM3 42h6v1h-6zM11 42h1v1h-1zM17 42h6v1h-6zM24 42h2v1h-2zM27 42h3v1h-3zM31 42h1v1h-1zM33 42h2v1h-2zM36 42h1v1h-1zM38 42h1v1h-1zM48 42h2v1h-2zM1 43h2v1h-2zM8 43h1v1h-1zM10 43h1v1h-1zM15 43h1v1h-1zM20 43h1v1h-1zM25 43h2v1h-2zM29 43h2v1h-2zM32 43h1v1h-1zM35 43h2v1h-2zM38 43h2v1h-2zM43 43h1v1h-1zM46 43h1v1h-1zM48 43h3v1h-3zM52 43h1v1h-1zM3 44h1v1h-1zM6 44h3v1h-3zM11 44h1v1h-1zM13 44h1v1h-1zM15 44h1v1h-1zM20 44h1v1h-1zM22 44h1v1h-1zM24 44h5v1h-5zM35 44h1v1h-1zM38 44h4v1h-4zM43 44h6v1h-6zM50 44h1v1h-1zM52 44h1v1h-1zM8 45h3v1h-3zM13 45h1v1h-1zM15 45h1v1h-1zM22 45h3v1h-3zM28 45h1v1h-1zM30 45h2v1h-2zM33 45h1v1h-1zM36 45h2v1h-2zM41 45h2v1h-2zM44 45h1v1h-1zM48 45h2v1h-2zM52 45h1v1h-1zM0 46h7v1h-7zM10 46h2v1h-2zM13 46h1v1h-1zM15 46h1v1h-1zM17 46h1v1h-1zM19 46h4v1h-4zM24 46h1v1h-1zM26 46h1v1h-1zM28 46h3v1h-3zM33 46h2v1h-2zM39 46h2v1h-2zM42 46h3v1h-3zM46 46h1v1h-1zM48 46h2v1h-2zM0 47h1v1h-1zM6 47h1v1h-1zM11 47h1v1h-1zM14 47h3v1h-3zM18 47h1v1h-1zM24 47h1v1h-1zM28 47h2v1h-2zM32 47h2v1h-2zM35 47h2v1h-2zM41 47h4v1h-4zM48 47h1v1h-1zM51 47h2v1h-2zM0 48h1v1h-1zM2 48h3v1h-3zM6 48h1v1h-1zM10 48h1v1h-1zM12 48h1v1h-1zM15 48h5v1h-5zM21 48h1v1h-1zM24 48h8v1h-8zM33 48h1v1h-1zM35 48h2v1h-2zM38 48h1v1h-1zM44 48h7v1h-7zM0 49h1v1h-1zM2 49h3v1h-3zM6 49h1v1h-1zM8 49h1v1h-1zM12 49h4v1h-4zM17 49h7v1h-7zM26 49h1v1h-1zM31 49h1v1h-1zM33 49h1v1h-1zM36 49h5v1h-5zM43 49h1v1h-1zM48 49h1v1h-1zM50 49h1v1h-1zM52 49h1v1h-1zM0 50h1v1h-1zM2 50h3v1h-3zM6 50h1v1h-1zM8 50h3v1h-3zM12 50h2v1h-2zM15 50h1v1h-1zM17 50h1v1h-1zM22 50h1v1h-1zM24 50h1v1h-1zM26 50h1v1h-1zM28 50h3v1h-3zM32 50h1v1h-1zM35 50h4v1h-4zM40 50h3v1h-3zM47 50h1v1h-1zM49 50h1v1h-1zM51 50h1v1h-1zM0 51h1v1h-1zM6 51h1v1h-1zM8 51h2v1h-2zM14 51h2v1h-2zM17 51h5v1h-5zM23 51h1v1h-1zM27 51h1v1h-1zM29 51h3v1h-3zM33 51h2v1h-2zM37 51h7v1h-7zM47 51h1v1h-1zM49 51h1v1h-1zM51 51h1v1h-1zM0 52h7v1h-7zM8 52h1v1h-1zM11 52h1v1h-1zM13 52h2v1h-2zM25 52h3v1h-3zM31 52h2v1h-2zM37 52h1v1h-1zM39 52h1v1h-1zM41 52h1v1h-1zM45 52h2v1h-2zM51 52h1v1h-1z" fill="#000"/></svg>
</body>
</html>
